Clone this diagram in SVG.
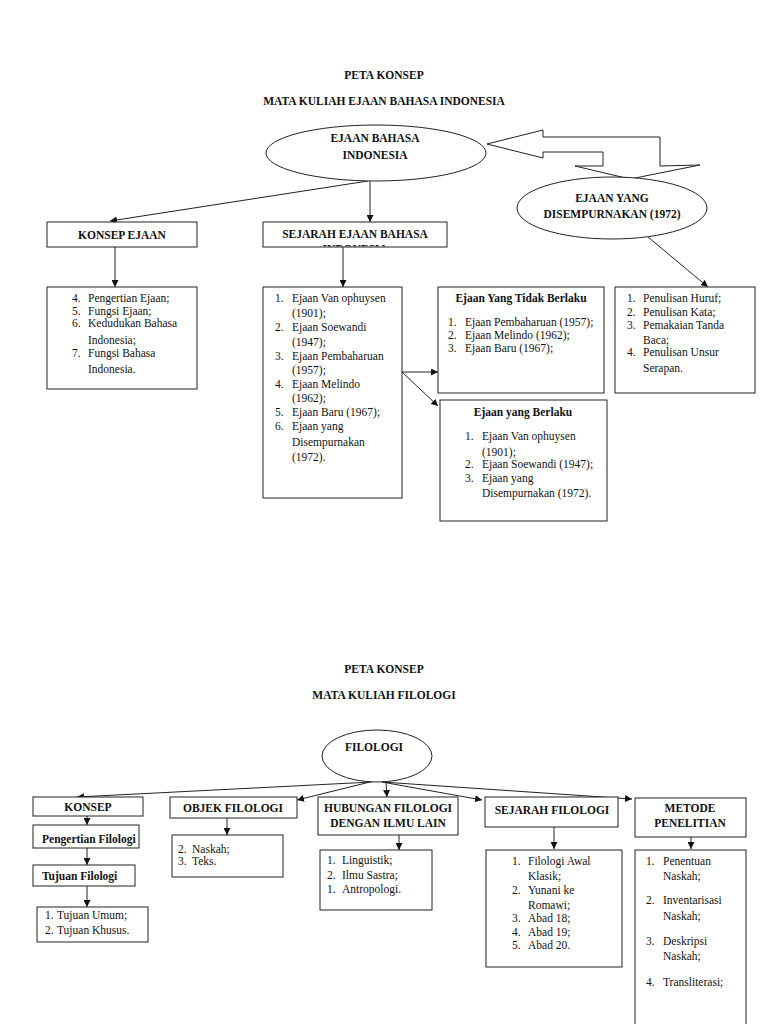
<svg xmlns="http://www.w3.org/2000/svg" width="768" height="1024" viewBox="0 0 768 1024">
<style>
text{font-family:"Liberation Serif","Times New Roman",serif;font-size:11.5px;fill:#111}
.b{font-weight:bold}
.c{text-anchor:middle}
.box{fill:#fff;stroke:#222;stroke-width:1}
.ln{fill:none;stroke:#222;stroke-width:1}
</style>
<defs>
<marker id="ah" viewBox="0 0 7 7" refX="7" refY="3.5" markerWidth="7" markerHeight="7" markerUnits="userSpaceOnUse" orient="auto">
<path d="M0,0 L7,3.5 L0,7 z" fill="#111"/>
</marker>
<clipPath id="clipSej"><rect x="263" y="222" width="184" height="24.5"/></clipPath>
</defs>
<rect width="768" height="1024" fill="#fff"/>

<g id="titles-top">
<text class="b c" x="384" y="79">PETA KONSEP</text>
<text class="b c" x="384" y="105">MATA KULIAH EJAAN BAHASA INDONESIA</text>
</g>

<g id="connectors">
<line class="ln" x1="370" y1="181" x2="370" y2="222" marker-end="url(#ah)"/>
<line class="ln" x1="368" y1="181" x2="110" y2="221" marker-end="url(#ah)"/>
<line class="ln" x1="115" y1="247" x2="115" y2="287" marker-end="url(#ah)"/>
<line class="ln" x1="343" y1="247" x2="343" y2="287" marker-end="url(#ah)"/>
<line class="ln" x1="402" y1="372" x2="438" y2="372" marker-end="url(#ah)"/>
<line class="ln" x1="402" y1="372" x2="438" y2="406" marker-end="url(#ah)"/>
<line class="ln" x1="648" y1="237" x2="708" y2="287" marker-end="url(#ah)"/>
<polygon class="box" points="487,144 543,130 543,137 660,137 660,166 700,165 630,179 575,166 603,166 603,152 543,152 543,158"/>

<line class="ln" x1="372" y1="782" x2="77" y2="797" marker-end="url(#ah)"/>
<line class="ln" x1="370" y1="782" x2="297" y2="800" marker-end="url(#ah)"/>
<line class="ln" x1="386" y1="782" x2="387" y2="797" marker-end="url(#ah)"/>
<line class="ln" x1="382" y1="782" x2="482" y2="800" marker-end="url(#ah)"/>
<line class="ln" x1="382" y1="782" x2="632" y2="799" marker-end="url(#ah)"/>
<line class="ln" x1="87" y1="816" x2="87" y2="825" marker-end="url(#ah)"/>
<line class="ln" x1="87" y1="848" x2="87" y2="865" marker-end="url(#ah)"/>
<line class="ln" x1="87" y1="886" x2="87" y2="907" marker-end="url(#ah)"/>
<line class="ln" x1="227" y1="818" x2="227" y2="835" marker-end="url(#ah)"/>
<line class="ln" x1="399" y1="835" x2="399" y2="850" marker-end="url(#ah)"/>
<line class="ln" x1="554" y1="827" x2="554" y2="849" marker-end="url(#ah)"/>
<line class="ln" x1="691" y1="837" x2="691" y2="849" marker-end="url(#ah)"/>
</g>

<g id="ejaan-bahasa">
<ellipse class="box" cx="376" cy="153" rx="110" ry="28"/>
<text class="b c" x="375" y="142">EJAAN BAHASA</text>
<text class="b c" x="375" y="159">INDONESIA</text>
</g>

<g id="disempurnakan">
<ellipse class="box" cx="612" cy="208" rx="95" ry="31"/>
<text class="b c" x="612" y="202">EJAAN YANG</text>
<text class="b c" x="612" y="218">DISEMPURNAKAN (1972)</text>
</g>

<g id="konsep-ejaan">
<rect class="box" x="47" y="222" width="150" height="25"/>
<text class="b c" x="122" y="239">KONSEP EJAAN</text>
</g>

<g id="sejarah-ejaan">
<rect class="box" x="263" y="222" width="184" height="25"/>
<text class="b c" x="355" y="238">SEJARAH EJAAN BAHASA</text>
<text class="b c" x="355" y="253" clip-path="url(#clipSej)">INDONESIA</text>
</g>

<g id="list-konsep-ejaan">
<rect class="box" x="47" y="287" width="150" height="102"/>
<text x="72" y="302">4.</text><text x="88" y="302">Pengertian Ejaan;</text>
<text x="72" y="315">5.</text><text x="88" y="315">Fungsi Ejaan;</text>
<text x="72" y="327">6.</text><text x="88" y="327">Kedudukan Bahasa</text>
<text x="88" y="344">Indonesia;</text>
<text x="72" y="357">7.</text><text x="88" y="357">Fungsi Bahasa</text>
<text x="88" y="373">Indonesia.</text>
</g>

<g id="list-sejarah">
<rect class="box" x="263" y="287" width="139" height="211"/>
<text x="275" y="302">1.</text><text x="292" y="302">Ejaan Van ophuysen</text>
<text x="292" y="317">(1901);</text>
<text x="275" y="331">2.</text><text x="292" y="331">Ejaan Soewandi</text>
<text x="292" y="346">(1947);</text>
<text x="275" y="360">3.</text><text x="292" y="360">Ejaan Pembaharuan</text>
<text x="292" y="374">(1957);</text>
<text x="275" y="388">4.</text><text x="292" y="388">Ejaan Melindo</text>
<text x="292" y="402">(1962);</text>
<text x="275" y="416">5.</text><text x="292" y="416">Ejaan Baru (1967);</text>
<text x="275" y="430">6.</text><text x="292" y="430">Ejaan yang</text>
<text x="292" y="446">Disempurnakan</text>
<text x="292" y="461">(1972).</text>
</g>

<g id="tidak-berlaku">
<rect class="box" x="438" y="287" width="166" height="106"/>
<text class="b c" x="521" y="302">Ejaan Yang Tidak Berlaku</text>
<text x="448" y="326">1.</text><text x="465" y="326">Ejaan Pembaharuan (1957);</text>
<text x="448" y="339">2.</text><text x="465" y="339">Ejaan Melindo (1962);</text>
<text x="448" y="352">3.</text><text x="465" y="352">Ejaan Baru (1967);</text>
</g>

<g id="berlaku">
<rect class="box" x="440" y="400" width="167" height="121"/>
<text class="b c" x="523" y="416">Ejaan yang Berlaku</text>
<text x="465" y="440">1.</text><text x="482" y="440">Ejaan Van ophuysen</text>
<text x="482" y="456">(1901);</text>
<text x="465" y="468">2.</text><text x="482" y="468">Ejaan Soewandi (1947);</text>
<text x="465" y="482">3.</text><text x="482" y="482">Ejaan yang</text>
<text x="482" y="497">Disempurnakan (1972).</text>
</g>

<g id="list-disempurnakan">
<rect class="box" x="615" y="287" width="140" height="106"/>
<text x="627" y="302">1.</text><text x="643" y="302">Penulisan Huruf;</text>
<text x="627" y="316">2.</text><text x="643" y="316">Penulisan Kata;</text>
<text x="627" y="329">3.</text><text x="643" y="329">Pemakaian Tanda</text>
<text x="643" y="344">Baca;</text>
<text x="627" y="356">4.</text><text x="643" y="356">Penulisan Unsur</text>
<text x="643" y="372">Serapan.</text>
</g>

<g id="titles-bottom">
<text class="b c" x="384" y="673">PETA KONSEP</text>
<text class="b c" x="384" y="699">MATA KULIAH FILOLOGI</text>
</g>

<g id="filologi">
<ellipse class="box" cx="377" cy="756" rx="55" ry="26"/>
<text class="b c" x="374" y="751">FILOLOGI</text>
</g>

<g id="konsep">
<rect class="box" x="33" y="797" width="110" height="19"/>
<text class="b c" x="88" y="811">KONSEP</text>
</g>
<g id="pengertian">
<rect class="box" x="33" y="825" width="106" height="23"/>
<text class="b" x="42" y="843">Pengertian Filologi</text>
</g>
<g id="tujuan">
<rect class="box" x="33" y="865" width="102" height="21"/>
<text class="b" x="42" y="880">Tujuan Filologi</text>
</g>
<g id="list-tujuan">
<rect class="box" x="37" y="907" width="111" height="35"/>
<text x="45" y="919">1.</text><text x="57" y="919">Tujuan Umum;</text>
<text x="45" y="934">2.</text><text x="57" y="934">Tujuan Khusus.</text>
</g>

<g id="objek">
<rect class="box" x="170" y="797" width="127" height="21"/>
<text class="b c" x="233" y="812">OBJEK FILOLOGI</text>
</g>
<g id="list-objek">
<rect class="box" x="172" y="835" width="111" height="42"/>
<text x="178" y="853">2.</text><text x="192" y="853">Naskah;</text>
<text x="178" y="865">3.</text><text x="192" y="865">Teks.</text>
</g>

<g id="hubungan">
<rect class="box" x="318" y="797" width="140" height="38"/>
<text class="b c" x="388" y="812">HUBUNGAN FILOLOGI</text>
<text class="b c" x="388" y="827">DENGAN ILMU LAIN</text>
</g>
<g id="list-hubungan">
<rect class="box" x="320" y="850" width="112" height="60"/>
<text x="327" y="864">1.</text><text x="342" y="864">Linguistik;</text>
<text x="327" y="879">2.</text><text x="342" y="879">Ilmu Sastra;</text>
<text x="327" y="893">1.</text><text x="342" y="893">Antropologi.</text>
</g>

<g id="sejarah-filologi">
<rect class="box" x="485" y="797" width="133" height="30"/>
<text class="b c" x="552" y="814">SEJARAH FILOLOGI</text>
</g>
<g id="list-sejarah-filologi">
<rect class="box" x="486" y="850" width="136" height="117"/>
<text x="512" y="865">1.</text><text x="528" y="865">Filologi Awal</text>
<text x="528" y="880">Klasik;</text>
<text x="512" y="894">2.</text><text x="528" y="894">Yunani ke</text>
<text x="528" y="909">Romawi;</text>
<text x="512" y="922">3.</text><text x="528" y="922">Abad 18;</text>
<text x="512" y="936">4.</text><text x="528" y="936">Abad 19;</text>
<text x="512" y="949">5.</text><text x="528" y="949">Abad 20.</text>
</g>

<g id="metode">
<rect class="box" x="635" y="798" width="111" height="39"/>
<text class="b c" x="690" y="812">METODE</text>
<text class="b c" x="690" y="827">PENELITIAN</text>
</g>
<g id="list-metode">
<rect class="box" x="635" y="850" width="111" height="180"/>
<text x="646" y="865">1.</text><text x="663" y="865">Penentuan</text>
<text x="663" y="880">Naskah;</text>
<text x="646" y="904">2.</text><text x="663" y="904">Inventarisasi</text>
<text x="663" y="920">Naskah;</text>
<text x="646" y="945">3.</text><text x="663" y="945">Deskripsi</text>
<text x="663" y="960">Naskah;</text>
<text x="646" y="986">4.</text><text x="663" y="986">Transliterasi;</text>
</g>
</svg>
